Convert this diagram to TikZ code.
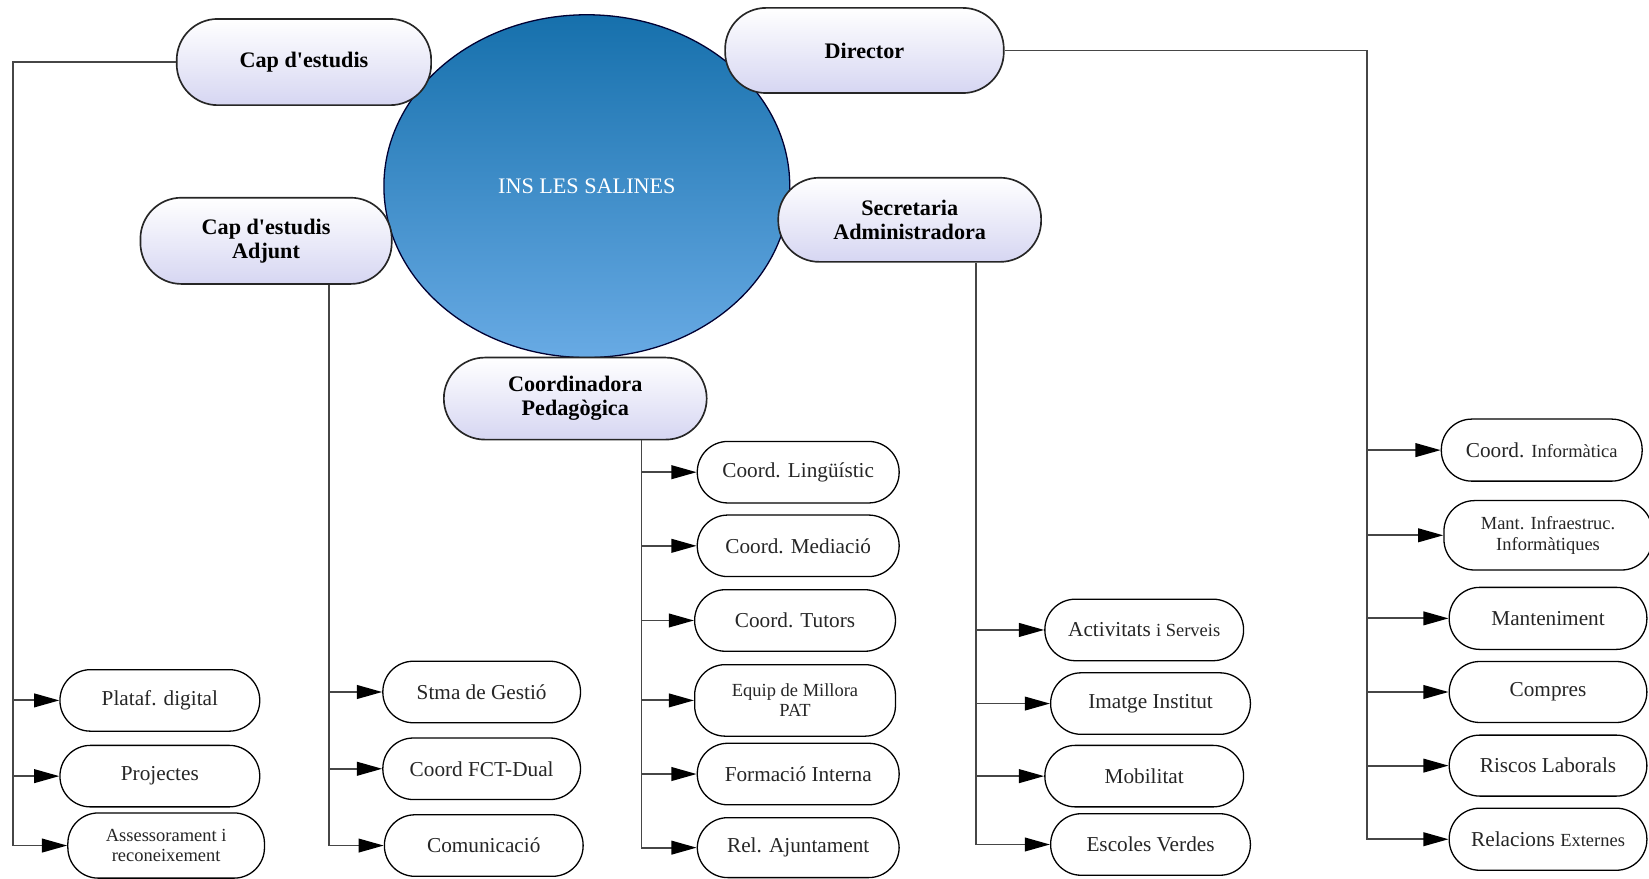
\documentclass[tikz,border=0pt]{standalone}
\usepackage{fontspec}
\setmainfont{Liberation Serif}
\usetikzlibrary{shapes.geometric,arrows.meta}
\definecolor{blueTop}{RGB}{22,112,172}
\definecolor{blueBot}{RGB}{104,170,228}
\definecolor{lav}{RGB}{214,214,242}
\definecolor{wire}{RGB}{70,70,70}
\newcommand\smx{\fontsize{10}{11}\selectfont}
\begin{document}
\begin{tikzpicture}[x=0.02cm,y=-0.02cm,
 topbox/.style={draw=black!85, line width=0.9pt, rounded corners=0.78cm, top color=white, bottom color=lav, minimum height=1.6cm, align=center, font=\fontsize{12}{13}\selectfont\bfseries, inner sep=0pt},
 child/.style={draw=black, line width=0.7pt, rounded corners=0.58cm, fill=white, minimum width=3.8cm, minimum height=1.17cm, align=center, font=\fontsize{11.5}{12}\selectfont, text=black!85, inner sep=0pt},
 smallchild/.style={child, font=\fontsize{10}{11}\selectfont},
 wireline/.style={draw=wire, line width=1pt},
 arr/.style={wireline, -{Triangle[length=0.48cm,width=0.26cm,color=black]}}]
\useasboundingbox (0,0) rectangle (1568,835);

% centre
\node[ellipse, draw=black!80!blue, line width=0.7pt, top color=blueTop, bottom color=blueBot, minimum width=7.72cm, minimum height=6.52cm, text=white, font=\fontsize{12}{14}\selectfont] (ins) at (558,177) {INS LES SALINES};

% top level
\node[topbox, minimum width=4.84cm, minimum height=1.64cm] (capd) at (289,59) {Cap d\textquotesingle estudis};
\node[topbox, minimum width=5.3cm, minimum height=1.62cm] (dir) at (822,48) {Director};
\node[topbox, minimum width=4.78cm, minimum height=1.64cm] (capda) at (253,229) {Cap d\textquotesingle estudis\\Adjunt};
\node[topbox, minimum width=5.0cm] (sec) at (865,209) {Secretaria\\Administradora};
\node[topbox, minimum width=5.0cm, minimum height=1.56cm] (coord) at (547,379) {Coordinadora\\Pedagògica};

% Cap d'estudis children
\node[child] (plat) at (152,666) {Plataf. digital};
\node[child] (proj) at (152,738) {Projectes};
\node[smallchild, minimum width=3.74cm, minimum height=1.24cm] (asse) at (158,804) {Assessorament i\\reconeixement};

% Adjunt children
\node[child, minimum width=3.76cm] (stma) at (458,658) {Stma de Gestió};
\node[child, minimum width=3.76cm] (fct) at (458,731) {Coord FCT-Dual};
\node[child, minimum width=3.78cm] (comu) at (460,804) {Comunicació};

% Coordinadora children
\node[child, minimum width=3.84cm] (ling) at (759,449) {Coord. Lingüístic};
\node[child, minimum width=3.84cm] (med) at (759,519) {Coord. Mediació};
\node[child, minimum width=3.82cm] (tut) at (756,590) {Coord. Tutors};
\node[smallchild, minimum width=3.82cm, minimum height=1.36cm] (equip) at (756,666) {Equip de Millora\\PAT};
\node[child, minimum width=3.84cm] (form) at (759,736) {Formació Interna};
\node[child, minimum width=3.84cm, minimum height=1.14cm] (rel) at (759,806) {Rel. Ajuntament};

% Secretaria children
\node[child, minimum width=3.78cm] (act) at (1088,599) {Activitats {\smx i Serveis}};
\node[child] (img) at (1094,669) {Imatge Institut};
\node[child, minimum width=3.78cm] (mob) at (1088,738) {Mobilitat};
\node[child] (esc) at (1094,803) {Escoles Verdes};

% Director children
\node[child, minimum width=3.82cm, minimum height=1.18cm] (cinf) at (1466,428) {Coord. {\smx Informàtica}};
\node[smallchild, minimum width=3.96cm, minimum height=1.32cm] (mant) at (1472,509) {Mant. Infraestruc.\\Informàtiques};
\node[child, minimum width=3.76cm, minimum height=1.18cm] (manten) at (1472,588) {Manteniment};
\node[child, minimum width=3.76cm, minimum height=1.16cm] (comp) at (1472,658) {Compres};
\node[child, minimum width=3.76cm, minimum height=1.16cm] (risc) at (1472,728) {Riscos Laborals};
\node[child, minimum width=3.76cm, minimum height=1.18cm] (relac) at (1472,798) {Relacions {\smx Externes}};

% buses
\coordinate (busA) at (12,0);
\coordinate (busB) at (313,0);
\coordinate (busC) at (610,0);
\coordinate (busD) at (928,0);
\coordinate (busE) at (1300,0);

\draw[arr] (capd.west) -| (busA |- asse.west) -- (asse.west);
\draw[arr] (plat.west -| busA) -- (plat.west);
\draw[arr] (proj.west -| busA) -- (proj.west);

\draw[arr] (capda.south -| busB) |- (comu.west);
\draw[arr] (stma.west -| busB) -- (stma.west);
\draw[arr] (fct.west -| busB) -- (fct.west);

\draw[arr] (coord.south -| busC) |- (rel.west);
\draw[arr] (ling.west -| busC) -- (ling.west);
\draw[arr] (med.west -| busC) -- (med.west);
\draw[arr] (tut.west -| busC) -- (tut.west);
\draw[arr] (equip.west -| busC) -- (equip.west);
\draw[arr] (form.west -| busC) -- (form.west);

\draw[arr] (sec.south -| busD) |- (esc.west);
\draw[arr] (act.west -| busD) -- (act.west);
\draw[arr] (img.west -| busD) -- (img.west);
\draw[arr] (mob.west -| busD) -- (mob.west);

\draw[arr] (dir.east) -| (busE |- relac.west) -- (relac.west);
\draw[arr] (cinf.west -| busE) -- (cinf.west);
\draw[arr] (mant.west -| busE) -- (mant.west);
\draw[arr] (manten.west -| busE) -- (manten.west);
\draw[arr] (comp.west -| busE) -- (comp.west);
\draw[arr] (risc.west -| busE) -- (risc.west);
\end{tikzpicture}
\end{document}
